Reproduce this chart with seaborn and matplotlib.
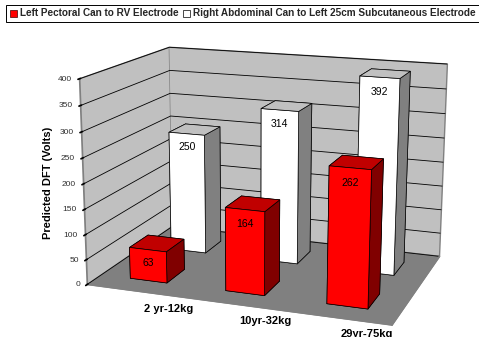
import matplotlib
matplotlib.use('Agg')
import matplotlib.pyplot as plt
from matplotlib.patches import Patch
import seaborn as sns

categories = ['2 yr-12kg', '10yr-32kg', '29yr-75kg']
red_values = [63, 164, 262]
white_values = [250, 314, 392]
series_names = ['Left Pectoral Can to RV Electrode',
                'Right Abdominal Can to Left 25cm Subcutaneous Electrode']
z_ticks = [0, 50, 100, 150, 200, 250, 300, 350, 400]

sns.set_theme(style='ticks')
plt.rcParams['font.family'] = ['Liberation Sans', 'DejaVu Sans']

fig = plt.figure(figsize=(4.79, 3.37), dpi=100, facecolor='white')
ax = fig.add_subplot(projection='3d', computed_zorder=False)
ax.set_position([0.1228, -0.1387, 0.8582, 1.2198])
ax.set_xlim(0, 3, view_margin=0)
ax.set_ylim(0, 2, view_margin=0)
ax.set_zlim(0, 400, view_margin=0)

# camera numbers were fitted to the box corners of the original
ax.view_init(elev=14.7738, azim=-70.3709, roll=-0.1929)
ax.set_proj_type('persp', focal_length=0.5447)
ax.set_box_aspect((1, 0.665, 0.6665))

ax.set_xticks([])
ax.set_yticks([])
ax.set_zticks(z_ticks)
ax.zaxis.set_ticks_position('lower')
ax.tick_params(axis='z', labelsize=6, pad=-5, labelcolor='#303030', color='black', width=0.5)
plt.setp(ax.get_zticklabels(), va='center', ha='right')

ax.xaxis.set_pane_color('#C0C0C0')
ax.yaxis.set_pane_color('#C0C0C0')
ax.zaxis.set_pane_color('#808080')
for a in (ax.xaxis, ax.yaxis, ax.zaxis):
    a.line.set_color('#808080')
    a.pane.set_edgecolor('#808080')
    a._axinfo['grid'].update(color='black', linewidth=0.6)

bar_x = 0.31
bar_w = 0.39
depth = 0.42
red_y = 0.30
white_y = 1.27


def faces(front, top, side):
    # bottom, top, -y, +y, -x, +x
    return [front, top, front, front, side, side]


for i, v in enumerate(white_values):
    ax.bar3d(i + bar_x, white_y, 0, bar_w, depth, v, color=faces('#FFFFFF', '#C0C0C0', '#808080'),
             shade=False, edgecolor='black', linewidth=0.5, zorder=2 + i * 0.1)
    ax.text(i + bar_x + bar_w / 2, white_y, v - 28, str(v), ha='center', va='center',
            fontsize=7.5, color='black', zorder=5)
for i, v in enumerate(red_values):
    ax.bar3d(i + bar_x, red_y, 0, bar_w, depth, v, color=faces('#FF0000', '#C00000', '#800000'),
             shade=False, edgecolor='black', linewidth=0.5, zorder=3 + i * 0.1)
    ax.text(i + bar_x + bar_w / 2, red_y, v - 28, str(v), ha='center', va='center',
            fontsize=7.5, color='black', zorder=5)

for i, c in enumerate(categories):
    ax.text(1 + 0.92 * i, -0.33 + 0.03 * i, 0, c, ha='center', va='center', fontsize=8,
            fontweight='bold', color='black')

fig.text(48 / 479, 1 - 183 / 337, 'Predicted DFT (Volts)', rotation=90, ha='center', va='center',
         fontsize=8, fontweight='bold', color='black')

handles = [Patch(facecolor='#FF0000', edgecolor='#400000', linewidth=0.5),
           Patch(facecolor='white', edgecolor='black', linewidth=0.5)]
leg = fig.legend(handles, series_names, ncol=2, loc='upper left', bbox_to_anchor=(6 / 479, 1 - 5 / 337),
                 frameon=True, fancybox=False, edgecolor='black', framealpha=1,
                 borderpad=0.35, handlelength=0.7, handleheight=0.7, handletextpad=0.3,
                 columnspacing=0.5, borderaxespad=0, prop={'weight': 'bold', 'size': 7.2})
leg.get_frame().set_linewidth(0.7)

fig.savefig('out.png', dpi=100)
